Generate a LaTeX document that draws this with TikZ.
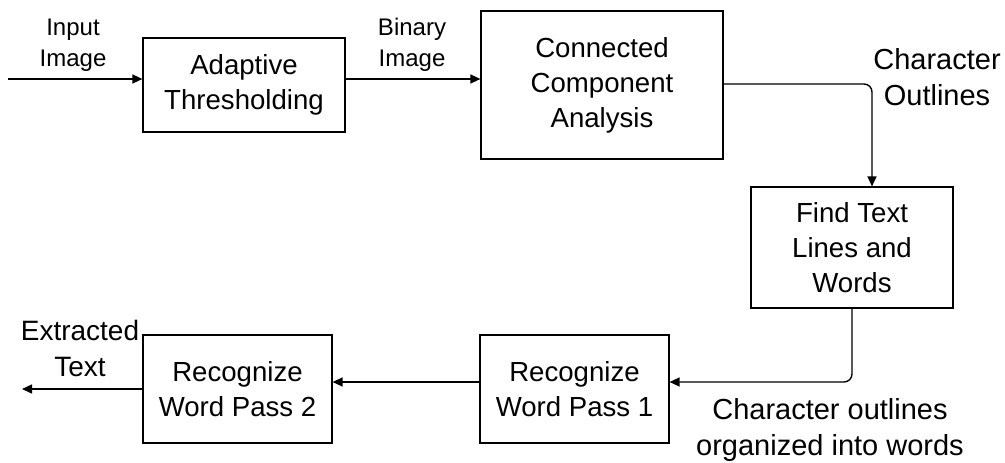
\documentclass[tikz,border=0pt]{standalone}
\usepackage{fontspec}
\setmainfont{Liberation Sans}
\usetikzlibrary{arrows.meta,positioning,calc}

\tikzset{
  stage/.style={rectangle, draw, line width=0.6pt, align=center, font=\fontsize{13.8}{17.5}\selectfont},
  tag/.style={align=center, font=\fontsize{12}{15.5}\selectfont},
  bigtag/.style={align=center, font=\fontsize{14.5}{18}\selectfont},
  flow/.style={line width=0.7pt, -{Triangle[length=5pt,width=4.5pt]}},
}

\begin{document}
\begin{tikzpicture}[x=0.5pt, y=-0.5pt]
  \useasboundingbox (0,0) rectangle (1005,462);
  % stages
  \node (adapt) at (244,85) [stage, minimum width=101pt, minimum height=47pt] {Adaptive\\Thresholding};
  \node (cca) at (602,85) [stage, minimum width=121pt, minimum height=74pt] {Connected\\Component\\Analysis};
  \node (find) at (852,247.5) [stage, minimum width=101pt, minimum height=60.5pt] {Find Text\\Lines and\\Words};
  \node (rec1) at (574.5,389) [stage, minimum width=94.5pt, minimum height=54pt] {Recognize\\Word Pass 1};
  \node (rec2) at (237.5,389) [stage, minimum width=94.5pt, minimum height=54pt] {Recognize\\Word Pass 2};
  % labels
  \node (inlbl) at (73,45) [tag] {Input\\Image};
  \node (binlbl) at (412,45) [tag] {Binary\\Image};
  \node (outlbl) at (937,77.5) [bigtag] {Character\\Outlines};
  \node (wordlbl) at (830,430) [bigtag] {Character outlines\\organized into words};
  \node (extlbl) at (80,348) [bigtag, font=\fontsize{14}{18}\selectfont] {Extracted\\Text};
  % connectors
  \coordinate (src) at (8,79);
  \coordinate (bend1) at (872,84);
  \coordinate (bend2) at (852,382);
  \coordinate (sink) at (22,389);
  \draw[flow] (src) -- (src -| adapt.west);
  \draw[flow] (adapt.east |- src) -- (cca.west |- src);
  \draw[flow, rounded corners=4pt] (cca.east |- bend1) -- (bend1) -- (bend1 |- find.north);
  \draw[flow, rounded corners=4pt] (find.south) -- (bend2) -- (bend2 -| rec1.east);
  \draw[flow] (rec1.west |- bend2) -- (rec2.east |- bend2);
  \draw[flow] (rec2.west |- sink) -- (sink);
\end{tikzpicture}
\end{document}
